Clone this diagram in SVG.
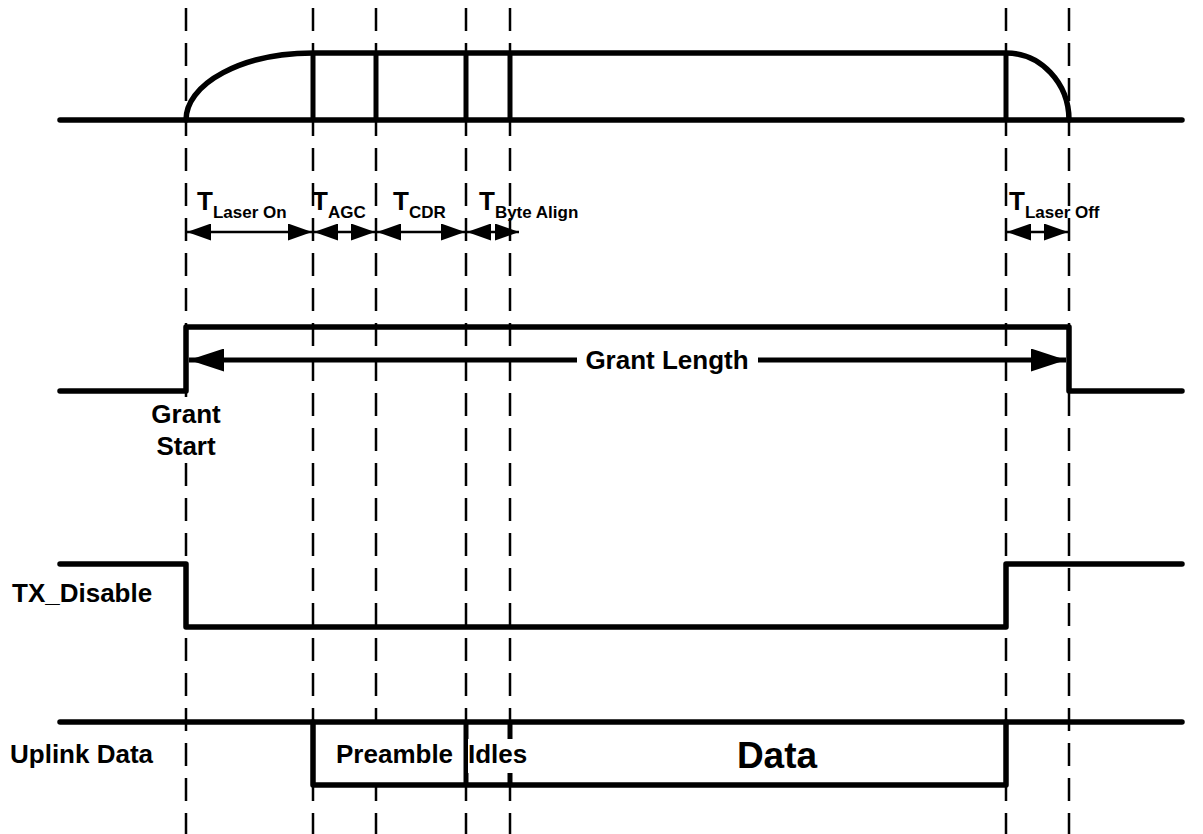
<svg xmlns="http://www.w3.org/2000/svg" width="1203" height="834" viewBox="0 0 1203 834">
<style>
.dash{stroke:#000;stroke-width:2.5;stroke-dasharray:23 12;fill:none}
.sig{stroke:#000;stroke-width:5.5;fill:none;stroke-linecap:round;stroke-linejoin:round}
.vbar{stroke:#000;stroke-width:5;fill:none}
.arr{stroke:#000;stroke-width:2.5;fill:none}
.lbl{font-family:"Liberation Sans",Arial,sans-serif;font-weight:bold;font-size:26px;fill:#000}
.T{font-family:"Liberation Sans",Arial,sans-serif;font-weight:bold;font-size:26px;fill:#000}
.sub{font-size:17px}
</style>
<defs>
<marker id="ah" viewBox="0 0 24 17" refX="24" refY="8.5" markerWidth="24" markerHeight="17" markerUnits="userSpaceOnUse" orient="auto-start-reverse">
<path d="M0,0 L24,8.5 L0,17 z" fill="#000"/>
</marker>
<marker id="ahBig" viewBox="0 0 35 23" refX="35" refY="11.5" markerWidth="35" markerHeight="23" markerUnits="userSpaceOnUse" orient="auto-start-reverse">
<path d="M0,0 L35,11.5 L0,23 z" fill="#000"/>
</marker>
</defs>
<rect width="1203" height="834" fill="#fff"/>

<g id="guides">
<line class="dash" x1="186" y1="8" x2="186" y2="834"/>
<line class="dash" x1="313" y1="8" x2="313" y2="834"/>
<line class="dash" x1="376" y1="8" x2="376" y2="834"/>
<line class="dash" x1="466" y1="8" x2="466" y2="834"/>
<line class="dash" x1="510" y1="8" x2="510" y2="834"/>
<line class="dash" x1="1006" y1="8" x2="1006" y2="834"/>
<line class="dash" x1="1069" y1="8" x2="1069" y2="834"/>
</g>

<g id="laser-signal">
<line class="sig" x1="60" y1="120" x2="1182" y2="120"/>
<path class="sig" d="M186,120 A127,67 0 0 1 313,53 L1006,53 A63,67 0 0 1 1069,120"/>
<line class="vbar" x1="313" y1="53" x2="313" y2="120"/>
<line class="vbar" x1="376" y1="53" x2="376" y2="120"/>
<line class="vbar" x1="466" y1="53" x2="466" y2="120"/>
<line class="vbar" x1="510" y1="53" x2="510" y2="120"/>
<line class="vbar" x1="1006" y1="53" x2="1006" y2="120"/>
</g>

<g id="timing-labels">
<text class="T" x="197" y="210">T<tspan class="sub" dy="8">Laser On</tspan></text>
<text class="T" x="312" y="210">T<tspan class="sub" dy="8">AGC</tspan></text>
<text class="T" x="393" y="210">T<tspan class="sub" dy="8">CDR</tspan></text>
<text class="T" x="479" y="210">T<tspan class="sub" dy="8">Byte Align</tspan></text>
<text class="T" x="1009" y="210">T<tspan class="sub" dy="8">Laser Off</tspan></text>
</g>

<g id="connectors">
<line class="arr" x1="187" y1="232" x2="312" y2="232" marker-start="url(#ah)" marker-end="url(#ah)"/>
<line class="arr" x1="314" y1="232" x2="375" y2="232" marker-start="url(#ah)" marker-end="url(#ah)"/>
<line class="arr" x1="377" y1="232" x2="465" y2="232" marker-start="url(#ah)" marker-end="url(#ah)"/>
<line class="arr" x1="467" y1="232" x2="519" y2="232" marker-start="url(#ah)" marker-end="url(#ah)"/>
<line class="arr" x1="1007" y1="232" x2="1068" y2="232" marker-start="url(#ah)" marker-end="url(#ah)"/>
<line x1="189" y1="360" x2="1066" y2="360" stroke="#000" stroke-width="5" marker-start="url(#ahBig)" marker-end="url(#ahBig)"/>
</g>

<g id="grant-signal">
<path class="sig" d="M60,391 L186,391 L186,327 L1069,327 L1069,391 L1182,391"/>
<rect x="577" y="345" width="181" height="30" fill="#fff"/>
<text class="lbl" x="667" y="369" text-anchor="middle">Grant Length</text>
<rect x="150" y="397" width="72" height="66" fill="#fff"/>
<text class="lbl" x="186" y="423" text-anchor="middle">Grant</text>
<text class="lbl" x="186" y="455" text-anchor="middle">Start</text>
</g>

<g id="tx-disable">
<path class="sig" d="M60,564 L186,564 L186,627 L1006,627 L1006,564 L1182,564"/>
<text class="lbl" x="12" y="602">TX_Disable</text>
</g>

<g id="uplink-data">
<rect x="313" y="722" width="693" height="63" fill="#fff"/>
<line class="sig" x1="60" y1="722" x2="1182" y2="722"/>
<path class="sig" d="M313,722 L313,785 L1006,785 L1006,722" stroke-linecap="butt"/>
<line class="vbar" x1="466" y1="722" x2="466" y2="785"/>
<line class="vbar" x1="510" y1="722" x2="510" y2="785"/>
<rect x="468" y="739" width="60" height="34" fill="#fff"/>
<text class="lbl" x="10" y="763">Uplink Data</text>
<text class="lbl" x="336" y="763">Preamble</text>
<text class="lbl" x="468" y="763">Idles</text>
<text class="lbl" x="777" y="768" text-anchor="middle" style="font-size:37px">Data</text>
</g>
</svg>
